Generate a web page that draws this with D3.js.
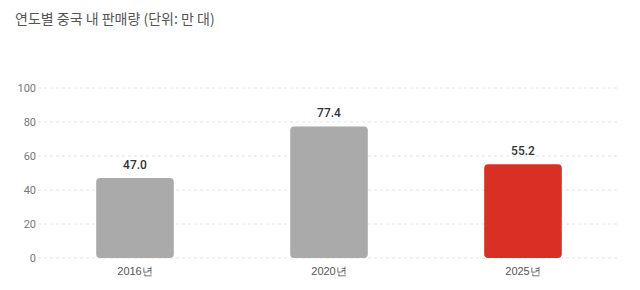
<!DOCTYPE html>
<html>
<head>
<meta charset="utf-8">
<script src="https://cdn.jsdelivr.net/npm/d3@7"></script>
<style>
  body { margin: 0; background: #fff; }
  svg { font-family: "Noto Sans CJK KR", "Noto Sans", sans-serif; }
</style>
</head>
<body>
<svg id="chart" width="640" height="290"></svg>
<script>
"use strict";

var chartTitle = "연도별 중국 내 판매량 (단위: 만 대)";
var years = ["2016년", "2020년", "2025년"];
var sales = [47.0, 77.4, 55.2];
var barColors = ["#aaaaaa", "#aaaaaa", "#d93025"];
var yTicks = [0, 20, 40, 60, 80, 100];

var width = 640;
var height = 290;
var margin = { top: 88, right: 20, bottom: 32, left: 38 };

var svg = d3.select("#chart");

svg.append("text")
    .attr("x", 15)
    .attr("y", 24)
    .attr("font-size", 14)
    .attr("fill", "#555")
    .text(chartTitle);

var x = d3.scaleBand()
    .domain(years)
    .range([margin.left, width - margin.right])
    .paddingInner(0.6)
    .paddingOuter(0.3);

var y = d3.scaleLinear()
    .domain([0, 100])
    .range([height - margin.bottom, margin.top]);

// grid lines
svg.append("g")
    .selectAll("line")
    .data(yTicks)
    .enter().append("line")
    .attr("x1", margin.left)
    .attr("x2", width - margin.right)
    .attr("y1", function (d) { return y(d); })
    .attr("y2", function (d) { return y(d); })
    .attr("stroke", "#e2e2e2")
    .attr("stroke-dasharray", "3,3");

var yAxis = svg.append("g")
    .attr("transform", "translate(" + (margin.left - 2) + ",0)")
    .call(d3.axisLeft(y).tickValues(yTicks).tickSize(0).tickPadding(0));
yAxis.select(".domain").remove();
yAxis.selectAll("text")
    .attr("font-size", 11)
    .attr("fill", "#777")
    .attr("font-family", "Roboto, sans-serif");

var xAxis = svg.append("g")
    .attr("transform", "translate(0," + (height - margin.bottom) + ")")
    .call(d3.axisBottom(x).tickSize(0).tickPadding(9));
xAxis.select(".domain").remove();
xAxis.selectAll("text")
    .attr("font-size", 11)
    .attr("fill", "#555");

svg.append("g")
    .selectAll("rect")
    .data(sales)
    .enter().append("rect")
    .attr("x", function (d, i) { return x(years[i]); })
    .attr("y", function (d) { return y(d); })
    .attr("width", x.bandwidth())
    .attr("height", function (d) { return y(0) - y(d); })
    .attr("rx", 4)
    .attr("fill", function (d, i) { return barColors[i]; });

svg.append("g")
    .selectAll("text")
    .data(sales)
    .enter().append("text")
    .attr("x", function (d, i) { return x(years[i]) + x.bandwidth() / 2; })
    .attr("y", function (d) { return y(d) - 9; })
    .attr("text-anchor", "middle")
    .attr("font-size", 12)
    .attr("font-weight", 500)
    .attr("font-family", "Roboto, sans-serif")
    .attr("fill", "#333")
    .text(function (d) { return d.toFixed(1); });
</script>
</body>
</html>
